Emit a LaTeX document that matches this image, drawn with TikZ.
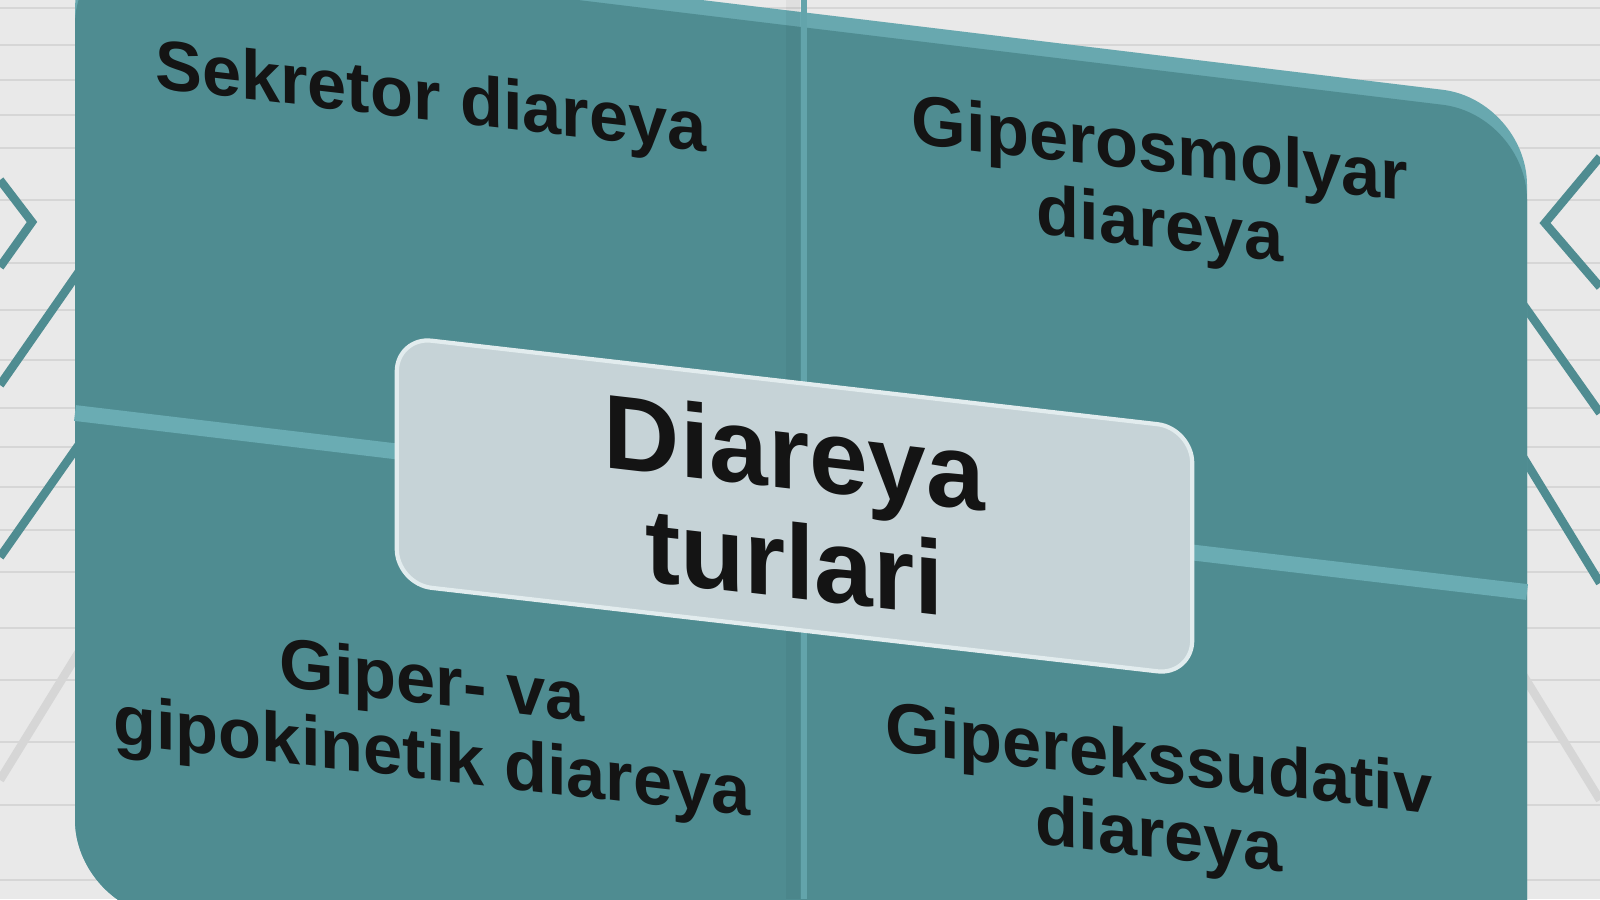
\documentclass[tikz,border=0pt]{standalone}
\usepackage{fontspec}
\setmainfont{Liberation Sans}
\usetikzlibrary{positioning}
\definecolor{panelteal}{HTML}{4F8C91}
\definecolor{bevelteal}{HTML}{68A8AF}
\definecolor{seamteal}{HTML}{6AACB3}
\definecolor{boxgrey}{HTML}{C6D3D7}
\definecolor{boxrim}{HTML}{E2ECEE}
\definecolor{paper}{HTML}{E9E9E9}
\definecolor{gridgrey}{HTML}{D6D6D6}
\definecolor{inkblack}{HTML}{141414}
\tikzset{
	panellabel/.style={font=\bfseries\fontsize{20}{21.5}\selectfont, text=inkblack, align=center, yslant=-0.115, inner sep=0pt},
	centrebox/.style={draw=boxrim, line width=1.2pt, fill=boxgrey, rounded corners=0.35cm, yslant=-0.115, minimum width=7.95cm, minimum height=2.47cm, font=\bfseries\fontsize{30}{31}\selectfont, text=inkblack, align=center},
	seam/.style={seamteal, line width=4.5pt},
	deco/.style={panelteal, line width=2.4pt},
	gridline/.style={gridgrey, line width=0.6pt}
}
\begin{document}
\begin{tikzpicture}[x=0.01cm, y=-0.01cm]
	\useasboundingbox (0,0) rectangle (1600,899);
	\clip (0,0) rectangle (1600,899);
	\fill[paper] (0,0) rectangle (1600,899);
	\foreach \gy in {8,45,80,115,148,200,263,310,360,408,447,487,530,572,628,680,742,805,880}
		\draw[gridline] (0,\gy) -- (1600,\gy);

	% side decorations
	\draw[deco] (0,180) -- (32,222) -- (0,267);
	\draw[deco] (0,385) -- (80,270);
	\draw[deco] (0,557) -- (80,443);
	\draw[deco, gridgrey] (0,780) -- (80,650);
	\draw[deco] (1600,157) -- (1545,223) -- (1600,287);
	\draw[deco] (1520,300) -- (1600,413);
	\draw[deco] (1520,452) -- (1600,583);
	\draw[deco, gridgrey] (1520,670) -- (1600,800);

	% panel
	\fill[bevelteal, rounded corners=0.85cm] (75,-76) -- (1527,100) -- (1527,1100) -- (75,905) -- cycle;
	\fill[panelteal, rounded corners=0.85cm] (75,-61) -- (1527,115) -- (1527,1100) -- (75,905) -- cycle;
	\fill[black, opacity=0.04] (786,0) rectangle (800,899);
	\draw[seamteal!75!panelteal, line width=1.8pt] (804,0) -- (804,899);
	\draw[seam] (75,413) -- (410,453);
	\draw[seam] (1180,551) -- (1527,592);

	\node[centrebox] (types) at (794.5,506) {Diareya\\turlari};

	\node[panellabel] (secretory) at (431,102) {Sekretor diareya};
	\node[panellabel] (osmotic) at (1160,192) {Giperosmolyar\\diareya};
	\node[panellabel] (motility) at (432,724) {Giper- va\\gipokinetik diareya};
	\node[panellabel] (exudative) at (1159,802) {Giperekssudativ\\diareya};
\end{tikzpicture}
\end{document}
